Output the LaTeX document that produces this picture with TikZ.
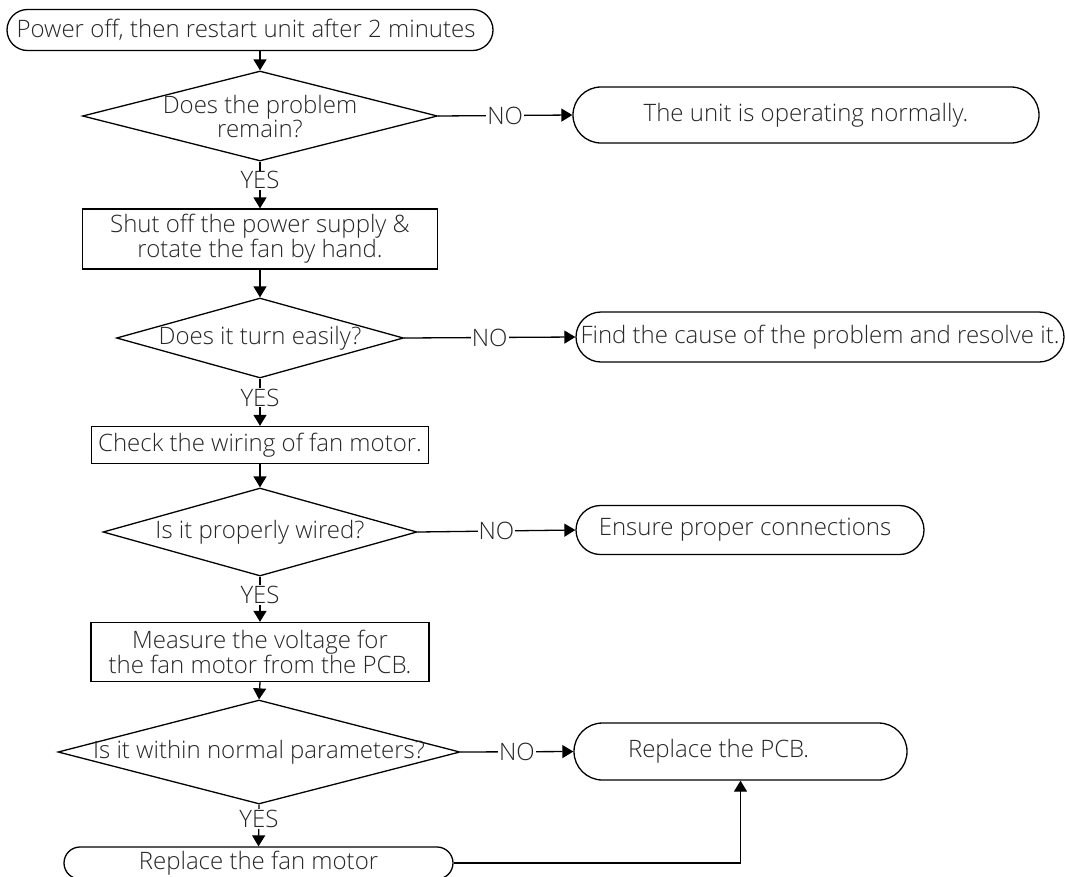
\documentclass[tikz,border=0pt]{standalone}
\usepackage{fontspec}
\setmainfont{Open Sans}[UprightFont=* Light]
\usetikzlibrary{arrows.meta, shapes.geometric}

\begin{document}
\begin{tikzpicture}[
        x=1pt, y=-1pt,
        font=\fontsize{24}{24}\selectfont,
        every node/.style={text=black!85},
        term/.style={rectangle, draw, line width=1.3pt, rounded corners=#1, minimum height=2*#1, inner sep=0pt, align=center},
        box/.style={rectangle, draw, line width=1.3pt, inner sep=0pt, align=center},
        decision/.style={diamond, draw, line width=1.3pt, inner sep=0pt},
        arrow/.style={-{Triangle[length=11pt, width=13pt]}, line width=1.3pt},
        answer/.style={fill=white, inner sep=1pt}
    ]
    \useasboundingbox (0,0) rectangle (1065,876);

    % Nodes
    \node[term=20.5pt, minimum width=486pt] (start) at (250,30) {Power off, then restart unit after 2 minutes\hspace*{8pt}};
    \node[decision, minimum width=355pt, minimum height=90pt, label={[align=center]center:Does the problem\\remain?}] (remain) at (260,116) {};
    \node[term=28pt, minimum width=466pt] (normal) at (806,115) {The unit is operating normally.};
    \node[box, minimum width=355pt, minimum height=60pt] (shutoff) at (260,239) {Shut off the power supply \&\\rotate the fan by hand.};
    \node[decision, minimum width=287pt, minimum height=80pt, label=center:Does it turn easily?] (turn) at (260,338) {};
    \node[term=25pt, minimum width=488pt] (cause) at (820,337) {Find the cause of the problem and resolve it.};
    \node[box, minimum width=337pt, minimum height=37pt] (wiring) at (260,445) {Check the wiring of fan motor.};
    \node[decision, minimum width=314pt, minimum height=88pt, label=center:Is it properly wired?] (wired) at (260,532) {};
    \node[term=24.5pt, minimum width=348pt] (ensure) at (750,530) {Ensure proper connections\hspace*{10pt}};
    \node[box, minimum width=338pt, minimum height=59pt] (measure) at (260,652) {Measure the voltage for\\the fan motor from the PCB.};
    \node[decision, minimum width=402pt, minimum height=104pt, label=center:Is it within normal parameters?] (params) at (259,752) {};
    \node[term=28.5pt, minimum width=333pt] (pcb) at (740.5,751.5) {Replace the PCB.\hspace*{44pt}};
    \node[term=16pt, minimum width=389pt] (motor) at (258.5,863) {Replace the fan motor};

    % Main flow
    \draw[arrow] (start.south -| remain.north) -- (remain.north);
    \draw[arrow] (remain.south) -- node[answer, pos=0.4] {YES} (shutoff.north);
    \draw[arrow] (shutoff.south) -- (turn.north);
    \draw[arrow] (turn.south) -- node[answer, pos=0.4] {YES} (wiring.north);
    \draw[arrow] (wiring.south) -- (wired.north);
    \draw[arrow] (wired.south) -- node[answer, pos=0.4] {YES} (measure.north);
    \draw[arrow] (measure.south) -- (params.north);
    \draw[arrow] (params.south) -- node[answer, pos=0.35] {YES} (motor.north);

    % NO branches
    \draw[arrow] (remain.east) -- node[answer] {NO} (normal.west);
    \draw[arrow] (turn.east) -- node[answer] {NO} (cause.west);
    \draw[arrow] (wired.east) -- node[answer] {NO} (ensure.west);
    \draw[arrow] (params.east) -- node[answer] {NO} (pcb.west);
    \draw[arrow] (motor.east) -| (pcb.south);

\end{tikzpicture}
\end{document}
